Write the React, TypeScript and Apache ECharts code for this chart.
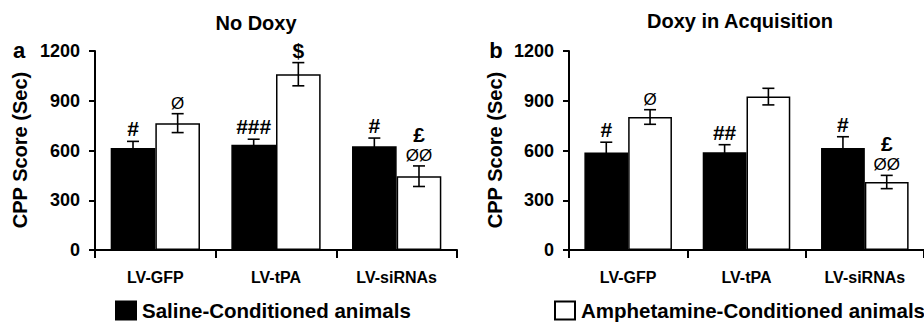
import React, { useEffect, useRef } from "react";
import * as echarts from "echarts";

const categories = ["LV-GFP", "LV-tPA", "LV-siRNAs"];
const yMin = 0;
const yMax = 1200;
const yInterval = 300;

const salineA = [615, 635, 625];
const salineAErr = [40, 33, 50];
const amphA = [765, 1060, 445];
const amphAErr = [57, 70, 62];

const salineB = [588, 590, 615];
const salineBErr = [62, 45, 68];
const amphB = [802, 925, 410];
const amphBErr = [44, 50, 40];

const salineAAnn = [["#"], ["###"], ["#"]];
const amphAAnn = [["Ø"], ["$"], ["£", "ØØ"]];
const salineBAnn = [["#"], ["##"], ["#"]];
const amphBAnn = [["Ø"], [], ["£", "ØØ"]];

const titles = ["No Doxy", "Doxy in Acquisition"];
const panelLetters = ["a", "b"];
const yName = "CPP Score (Sec)";
const salineName = "Saline-Conditioned animals";
const amphName = "Amphetamine-Conditioned animals";

const FONT = "'Liberation Sans', Arial, Helvetica, sans-serif";
const BAR_FRAC = 0.37;

function errSeries(
  values: number[],
  errs: number[],
  anns: string[][],
  side: number,
  axisIndex: number
) {
  return {
    type: "custom",
    xAxisIndex: axisIndex,
    yAxisIndex: axisIndex,
    z: 10,
    silent: true,
    data: values.map((v, i) => [i, v, errs[i]]),
    encode: { x: 0, y: 1 },
    renderItem: (params: any, api: any) => {
      const i = api.value(0);
      const v = api.value(1);
      const e = api.value(2);
      const bw = api.size([1, 0])[0] * BAR_FRAC;
      const cx = api.coord([i, v])[0] + (side * bw) / 2;
      const yTop = api.coord([i, v + e])[1];
      const yBot = api.coord([i, v - e])[1];
      const cap = 6;
      const ls = { stroke: "#000", lineWidth: 1.6 };
      const children: any[] = [
        { type: "line", shape: { x1: cx, y1: yTop, x2: cx, y2: yBot }, style: ls },
        { type: "line", shape: { x1: cx - cap, y1: yTop, x2: cx + cap, y2: yTop }, style: ls },
        { type: "line", shape: { x1: cx - cap, y1: yBot, x2: cx + cap, y2: yBot }, style: ls },
      ];
      const lines = anns[params.dataIndex] || [];
      let yb = yTop - 2;
      for (let k = lines.length - 1; k >= 0; k--) {
        const t = lines[k];
        const isO = t.indexOf("Ø") >= 0;
        children.push({
          type: "text",
          x: cx,
          y: yb,
          style: {
            text: t,
            fill: "#000",
            font: isO ? `normal 17px ${FONT}` : `bold 21px ${FONT}`,
            textAlign: "center",
            textVerticalAlign: "bottom",
          },
        });
        yb -= 19;
      }
      return { type: "group", children };
    },
  };
}

export default function App() {
  const ref = useRef<HTMLDivElement>(null);

  useEffect(() => {
    document.body.style.margin = "0";
    const chart = echarts.init(ref.current!, null, { renderer: "svg" });

    const grids = [
      { left: 95, top: 51, width: 362, height: 199 },
      { left: 569, top: 51, width: 362, height: 199 },
    ];

    const xAxes = grids.map((_, gi) => ({
      type: "category",
      gridIndex: gi,
      data: categories,
      boundaryGap: true,
      axisLine: { lineStyle: { color: "#000", width: 2 } },
      axisTick: { show: true, interval: 0, length: 8, lineStyle: { color: "#000", width: 2 } },
      axisLabel: {
        interval: 0,
        color: "#000",
        fontFamily: FONT,
        fontWeight: "bold",
        fontSize: 16,
        margin: 19,
      },
      splitLine: { show: false },
    }));

    const yAxes = grids.map((_, gi) => ({
      type: "value",
      gridIndex: gi,
      min: yMin,
      max: yMax,
      interval: yInterval,
      axisLine: { show: true, lineStyle: { color: "#000", width: 2 } },
      axisTick: { show: true, length: 6, lineStyle: { color: "#000", width: 2 } },
      axisLabel: {
        color: "#000",
        fontFamily: FONT,
        fontWeight: "bold",
        fontSize: 18,
        margin: 15,
        formatter: (v: number) => String(v),
      },
      splitLine: { show: false },
    }));

    const barBase = { type: "bar", barWidth: `${BAR_FRAC * 100}%`, barGap: "0%" };
    const salineStyle = { color: "#000", borderColor: "#000", borderWidth: 1.5 };
    const amphStyle = { color: "#fff", borderColor: "#000", borderWidth: 1.5 };

    const series: any[] = [
      { ...barBase, name: salineName, xAxisIndex: 0, yAxisIndex: 0, data: salineA, itemStyle: salineStyle },
      { ...barBase, name: amphName, xAxisIndex: 0, yAxisIndex: 0, data: amphA, itemStyle: amphStyle },
      { ...barBase, name: salineName, xAxisIndex: 1, yAxisIndex: 1, data: salineB, itemStyle: salineStyle },
      { ...barBase, name: amphName, xAxisIndex: 1, yAxisIndex: 1, data: amphB, itemStyle: amphStyle },
      errSeries(salineA, salineAErr, salineAAnn, -1, 0),
      errSeries(amphA, amphAErr, amphAAnn, 1, 0),
      errSeries(salineB, salineBErr, salineBAnn, -1, 1),
      errSeries(amphB, amphBErr, amphBAnn, 1, 1),
    ];

    const legendText = {
      color: "#000",
      fontFamily: FONT,
      fontWeight: "bold",
      fontSize: 20.5,
      lineHeight: 18,
      padding: [0, 0, 0, 1],
    };

    const graphic: any[] = [
      {
        type: "text",
        x: 256,
        y: 23,
        style: { text: titles[0], font: `bold 20px ${FONT}`, fill: "#000", textAlign: "center", textVerticalAlign: "middle" },
      },
      {
        type: "text",
        x: 740,
        y: 21,
        style: { text: titles[1], font: `bold 20px ${FONT}`, fill: "#000", textAlign: "center", textVerticalAlign: "middle" },
      },
      {
        type: "text",
        x: 19,
        y: 50,
        style: { text: panelLetters[0], font: `bold 22px ${FONT}`, fill: "#000", textAlign: "center", textVerticalAlign: "middle" },
      },
      {
        type: "text",
        x: 496,
        y: 50,
        style: { text: panelLetters[1], font: `bold 22px ${FONT}`, fill: "#000", textAlign: "center", textVerticalAlign: "middle" },
      },
      {
        type: "text",
        x: 20,
        y: 150,
        rotation: Math.PI / 2,
        style: { text: yName, font: `bold 20px ${FONT}`, fill: "#000", textAlign: "center", textVerticalAlign: "middle" },
      },
      {
        type: "text",
        x: 495,
        y: 150,
        rotation: Math.PI / 2,
        style: { text: yName, font: `bold 20px ${FONT}`, fill: "#000", textAlign: "center", textVerticalAlign: "middle" },
      },
    ];

    chart.setOption({
      animation: false,
      backgroundColor: "#fff",
      grid: grids,
      xAxis: xAxes,
      yAxis: yAxes,
      legend: [
        {
          left: 115,
          top: 300,
          padding: 0,
          data: [salineName],
          icon: "rect",
          itemWidth: 20,
          itemHeight: 18,
          textStyle: legendText,
          selectedMode: false,
        },
        {
          left: 554,
          top: 300,
          padding: 0,
          data: [amphName],
          icon: "rect",
          itemWidth: 20,
          itemHeight: 18,
          textStyle: legendText,
          selectedMode: false,
        },
      ],
      graphic,
      series,
    });

    return () => chart.dispose();
  }, []);

  return <div ref={ref} style={{ width: 924, height: 322 }} />;
}
